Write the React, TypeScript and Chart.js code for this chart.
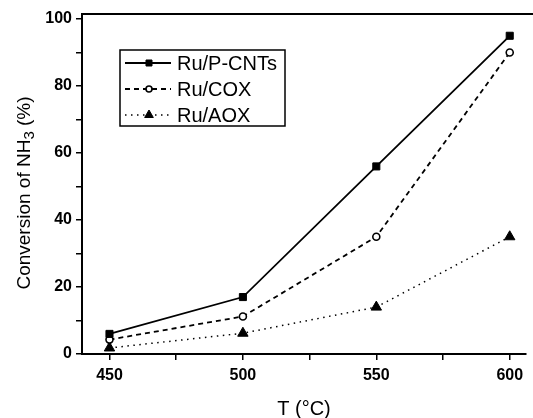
import React, { useEffect, useRef } from "react";
import { Chart, registerables } from "chart.js";

Chart.register(...registerables);

const temperatures = [450, 500, 550, 600];
const ruPCNTs = [6, 17, 56, 95];
const ruCOX = [4.3, 11.2, 35, 90];
const ruAOX = [1.8, 6.2, 14, 35];
const seriesLabels = ["Ru/P-CNTs", "Ru/COX", "Ru/AOX"];
const xTicks = [450, 475, 500, 525, 550, 575, 600];
const xLabelled = [450, 500, 550, 600];
const yTicks = [0, 10, 20, 30, 40, 50, 60, 70, 80, 90, 100];
const yLabelled = [0, 20, 40, 60, 80, 100];
const yTitleParts = ["Conversion of NH", "3", " (%)"];

const FONT = "'Liberation Sans', Arial, sans-serif";

function drawMarker(ctx: CanvasRenderingContext2D, style: string, x: number, y: number, r: number) {
  ctx.beginPath();
  if (style === "rect") {
    const s = Math.SQRT1_2 * r;
    ctx.rect(x - s, y - s, 2 * s, 2 * s);
  } else if (style === "triangle") {
    const h = r * 1.5;
    const hw = r * 0.866;
    ctx.moveTo(x, y - r);
    ctx.lineTo(x + hw, y - r + h);
    ctx.lineTo(x - hw, y - r + h);
    ctx.closePath();
  } else {
    ctx.arc(x, y, r, 0, Math.PI * 2);
  }
  ctx.fill();
  ctx.stroke();
}

const frameAndLegend = {
  id: "frameAndLegend",
  afterDraw(chart: any) {
    const ctx = chart.ctx;
    const ca = chart.chartArea;
    ctx.save();
    // top border
    ctx.strokeStyle = "#000";
    ctx.lineWidth = 2;
    ctx.beginPath();
    ctx.moveTo(ca.left - 1, ca.top);
    ctx.lineTo(chart.width, ca.top);
    ctx.stroke();

    // y-axis title with subscript
    ctx.save();
    ctx.translate(25, 193);
    ctx.rotate(-Math.PI / 2);
    ctx.fillStyle = "#000";
    ctx.textBaseline = "middle";
    ctx.textAlign = "left";
    const big = `19px ${FONT}`;
    const small = `15px ${FONT}`;
    ctx.font = big;
    const w0 = ctx.measureText(yTitleParts[0]).width;
    const w2 = ctx.measureText(yTitleParts[2]).width;
    ctx.font = small;
    const w1 = ctx.measureText(yTitleParts[1]).width;
    let x = -(w0 + w1 + w2) / 2;
    ctx.font = big;
    ctx.fillText(yTitleParts[0], x, 0);
    x += w0;
    ctx.font = small;
    ctx.fillText(yTitleParts[1], x, 5);
    x += w1;
    ctx.font = big;
    ctx.fillText(yTitleParts[2], x, 0);
    ctx.restore();

    // legend box
    const bx = 120, by = 50, bw = 165, bh = 76;
    ctx.lineWidth = 1.5;
    ctx.strokeStyle = "#000";
    ctx.strokeRect(bx, by, bw, bh);
    const rows = [63, 89, 115];
    chart.data.datasets.forEach((ds: any, i: number) => {
      const y = rows[i];
      ctx.save();
      ctx.strokeStyle = ds.borderColor;
      ctx.lineWidth = ds.borderWidth;
      ctx.setLineDash(ds.borderDash || []);
      ctx.beginPath();
      ctx.moveTo(125, y);
      ctx.lineTo(171, y);
      ctx.stroke();
      ctx.restore();
      ctx.save();
      ctx.fillStyle = ds.pointBackgroundColor;
      ctx.strokeStyle = ds.borderColor;
      ctx.lineWidth = ds.pointBorderWidth;
      drawMarker(ctx, ds.pointStyle, 149, y, ds.pointStyle === "triangle" ? 5 : ds.pointRadius * 0.85);
      ctx.restore();
      ctx.fillStyle = "#000";
      ctx.font = `20px ${FONT}`;
      ctx.textBaseline = "middle";
      ctx.textAlign = "left";
      ctx.fillText(ds.label, 177, y + 1);
    });
    ctx.restore();
  },
};

export default function App() {
  const ref = useRef<HTMLCanvasElement>(null);
  useEffect(() => {
    if (!ref.current) return;
    const chart = new Chart(ref.current, {
      type: "line",
      data: {
        labels: temperatures,
        datasets: [
          {
            label: seriesLabels[0],
            data: temperatures.map((t, i) => ({ x: t, y: ruPCNTs[i] })),
            borderColor: "#000",
            borderWidth: 1.8,
            pointStyle: "rect",
            pointRadius: 5,
            pointBackgroundColor: "#000",
            pointBorderColor: "#000",
            pointBorderWidth: 1,
          },
          {
            label: seriesLabels[1],
            data: temperatures.map((t, i) => ({ x: t, y: ruCOX[i] })),
            borderColor: "#000",
            borderWidth: 1.8,
            borderDash: [5, 4],
            pointStyle: "circle",
            pointRadius: 3.5,
            pointBackgroundColor: "#fff",
            pointBorderColor: "#000",
            pointBorderWidth: 1.6,
          },
          {
            label: seriesLabels[2],
            data: temperatures.map((t, i) => ({ x: t, y: ruAOX[i] })),
            borderColor: "#000",
            borderWidth: 1.5,
            borderDash: [1.5, 4.5],
            pointStyle: "triangle",
            pointRadius: 6,
            pointBackgroundColor: "#000",
            pointBorderColor: "#000",
            pointBorderWidth: 1,
          },
        ],
      },
      options: {
        animation: false,
        responsive: false,
        maintainAspectRatio: false,
        layout: { padding: { top: 14, right: 0, left: 0, bottom: 0 } },
        plugins: { legend: { display: false }, tooltip: { enabled: false } },
        scales: {
          x: {
            type: "linear",
            min: 439.7,
            max: 606.1,
            afterBuildTicks: (s: any) => {
              s.ticks = xTicks.map((v) => ({ value: v }));
            },
            afterFit: (s: any) => {
              s.height = 64;
            },
            ticks: {
              autoSkip: false,
              maxRotation: 0,
              color: "#000",
              padding: 6,
              font: { family: FONT, size: 16, weight: "bold" },
              callback: (v: any) => (xLabelled.includes(Number(v)) ? String(v) : ""),
            },
            grid: { drawOnChartArea: false, drawTicks: true, tickLength: 6, color: "#000", lineWidth: 1.5 },
            border: { display: true, color: "#000", width: 2 },
            title: {
              display: true,
              text: "T (°C)",
              color: "#000",
              font: { family: FONT, size: 20 },
              padding: { top: 4, bottom: -3 },
            },
          },
          y: {
            type: "linear",
            min: 0,
            max: 101.5,
            afterBuildTicks: (s: any) => {
              s.ticks = yTicks.map((v) => ({ value: v }));
            },
            afterFit: (s: any) => {
              s.width = 82;
            },
            ticks: {
              autoSkip: false,
              color: "#000",
              padding: 4,
              font: { family: FONT, size: 16, weight: "bold" },
              callback: (v: any) => (yLabelled.includes(Number(v)) ? String(v) : ""),
            },
            grid: { drawOnChartArea: false, drawTicks: true, tickLength: 6, color: "#000", lineWidth: 1.5 },
            border: { display: true, color: "#000", width: 2 },
            title: { display: false },
          },
        },
      },
      plugins: [frameAndLegend],
    } as any);
    return () => chart.destroy();
  }, []);
  return (
    <div style={{ position: "fixed", left: 0, top: 0, width: 533, height: 418, background: "#fff" }}>
      <canvas ref={ref} width={533} height={418} style={{ width: 533, height: 418, display: "block" }} />
    </div>
  );
}
